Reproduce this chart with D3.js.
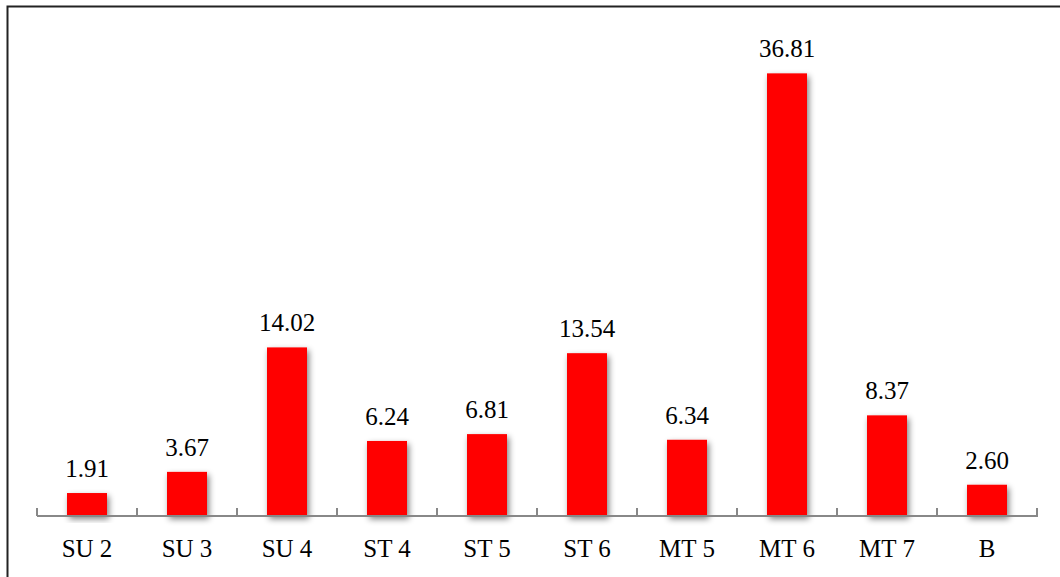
<!DOCTYPE html>
<html><head><meta charset="utf-8">
<script src="https://cdn.jsdelivr.net/npm/d3@7"></script>
<style>body{margin:0;background:#fff}svg{display:block}</style>
</head><body>
<script>
const categories = ["SU 2","SU 3","SU 4","ST 4","ST 5","ST 6","MT 5","MT 6","MT 7","B"];
const values = [1.91,3.67,14.02,6.24,6.81,13.54,6.34,36.81,8.37,2.60];
const labels = ["1.91","3.67","14.02","6.24","6.81","13.54","6.34","36.81","8.37","2.60"];

const W=1060,H=577;
const svg=d3.select("body").append("svg").attr("width",W).attr("height",H);
const defs=svg.append("defs");
const f=defs.append("filter").attr("id","sh").attr("x","-30%").attr("y","-30%").attr("width","160%").attr("height","160%");
f.append("feGaussianBlur").attr("in","SourceAlpha").attr("stdDeviation",3);
f.append("feOffset").attr("dx",2).attr("dy",3).attr("result","o");
f.append("feComponentTransfer").append("feFuncA").attr("type","linear").attr("slope",0.5);
const m=f.append("feMerge");m.append("feMergeNode");m.append("feMergeNode").attr("in","SourceGraphic");

svg.append("rect").attr("x",7.5).attr("y",6.5).attr("width",1100).attr("height",600)
  .attr("fill","none").attr("stroke","#222").attr("stroke-width",2);

const x=d3.scaleBand().domain(categories).range([37,1037]).paddingInner(0.6).paddingOuter(0.3);
const y=d3.scaleLinear().domain([0,40]).range([516,35]);

const g=svg.append("g");
g.selectAll("rect.bar").data(values).join("rect").attr("class","bar")
  .attr("x",(d,i)=>x(categories[i])).attr("width",x.bandwidth())
  .attr("y",d=>y(d)).attr("height",d=>y(0)-y(d))
  .attr("fill","#ff0000").attr("filter","url(#sh)");

// axis
const ax=svg.append("g").attr("transform",`translate(0,${y(0)})`);
ax.append("line").attr("x1",37).attr("x2",1038).attr("stroke","#888").attr("stroke-width",2);
const bounds=d3.range(categories.length+1).map(i=>37+i*(1000/categories.length));
ax.selectAll("line.t").data(bounds).join("line").attr("class","t")
  .attr("x1",d=>d).attr("x2",d=>d).attr("y1",0).attr("y2",-8).attr("stroke","#888").attr("stroke-width",2);

svg.selectAll("text.cat").data(categories).join("text").attr("class","cat")
  .attr("x",d=>x(d)+x.bandwidth()/2).attr("y",557).attr("text-anchor","middle")
  .attr("font-family","Liberation Serif, Times New Roman, serif").attr("font-size",25).attr("fill","#000").text(d=>d);

svg.selectAll("text.val").data(values).join("text").attr("class","val")
  .attr("x",(d,i)=>x(categories[i])+x.bandwidth()/2).attr("y",d=>y(d)-16).attr("text-anchor","middle")
  .attr("font-family","Liberation Serif, Times New Roman, serif").attr("font-size",25).attr("fill","#000").text((d,i)=>labels[i]);
</script>
</body></html>
